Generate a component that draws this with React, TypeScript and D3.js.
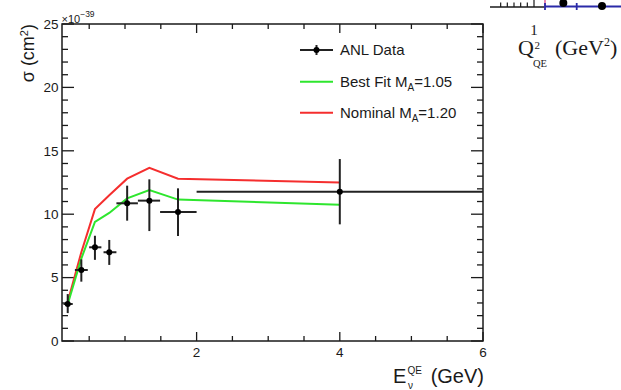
// @ts-nocheck
import { useEffect, useRef } from "react"
import * as d3 from "d3"

// ANL data points (E in GeV, sigma in 1e-39 cm^2)
const anlE = [0.2, 0.39, 0.58, 0.78, 1.03, 1.34, 1.74, 4.0]
const anlELo = [0.14, 0.3, 0.5, 0.7, 0.88, 1.18, 1.49, 2.0]
const anlEHi = [0.27, 0.48, 0.67, 0.88, 1.18, 1.49, 2.0, 6.0]
const anlSigma = [2.92, 5.6, 7.39, 7.0, 10.86, 11.07, 10.17, 11.78]
const anlSigmaLo = [2.2, 4.68, 6.4, 6.0, 9.49, 8.67, 8.28, 9.2]
const anlSigmaHi = [3.7, 6.44, 8.3, 7.97, 12.25, 12.75, 12.04, 14.35]

// model curves evaluated at the bin centres
const bestFit = [2.9, 6.5, 9.4, 10.1, 11.25, 11.9, 11.15, 10.75]
const nominal = [3.1, 7.0, 10.4, 11.5, 12.8, 13.65, 12.8, 12.5]

const xMajor = [2, 4, 6]
const yMajor = [0, 5, 10, 15, 20, 25]

const legendLabels = ["ANL Data", "Best Fit M", "Nominal M"]
const legendValues = ["", "=1.05", "=1.20"]

// neighbouring panel, cut off at the top right
const qTicks = [0.5, 0.6, 0.7, 0.8, 0.9, 1]
const qPts = [1.44, 2.02]
const qPtsY = [0.4, 0.1]

const W = 621
const H = 390
const FONT = "'Liberation Sans', Arial, Helvetica, sans-serif"

export default function App() {
  const svgRef = useRef<SVGSVGElement>(null)

  useEffect(() => {
    if (!svgRef.current) return
    const svg = d3.select(svgRef.current)
    svg.selectAll("*").remove()

    const left = 62, right = 483, top = 24, bottom = 341
    const x = d3.scaleLinear().domain([0.12, 6]).range([left, right])
    const y = d3.scaleLinear().domain([0, 25]).range([bottom, top])
    const ink = "#1a1a1a"

    // frame
    svg.append("rect")
      .attr("x", left).attr("y", top)
      .attr("width", right - left).attr("height", bottom - top)
      .attr("fill", "none").attr("stroke", ink).attr("stroke-width", 1.5)

    // x ticks, bottom and top, pointing inward
    const xTicks = d3.range(0.5, 6.01, 0.5)
    const tg = svg.append("g").attr("stroke", ink).attr("stroke-width", 1.3)
    xTicks.forEach((t) => {
      const len = xMajor.includes(t) ? 9 : 5
      tg.append("line").attr("x1", x(t)).attr("x2", x(t)).attr("y1", bottom).attr("y2", bottom - len)
      tg.append("line").attr("x1", x(t)).attr("x2", x(t)).attr("y1", top).attr("y2", top + len)
    })
    const yTicks = d3.range(0, 25.01, 1)
    yTicks.forEach((t) => {
      const len = yMajor.includes(t) ? 12 : 6
      tg.append("line").attr("x1", left).attr("x2", left + len).attr("y1", y(t)).attr("y2", y(t))
      tg.append("line").attr("x1", right).attr("x2", right - len).attr("y1", y(t)).attr("y2", y(t))
    })

    // tick labels
    svg.append("g").selectAll("text").data(xMajor).join("text")
      .attr("x", (d) => x(d)).attr("y", 357)
      .attr("text-anchor", "middle")
      .style("font-family", FONT).style("font-size", "13.5px").attr("fill", ink)
      .text((d) => d)
    svg.append("g").selectAll("text").data(yMajor).join("text")
      .attr("x", 58.5).attr("y", (d) => y(d)).attr("dy", "0.36em")
      .attr("text-anchor", "end")
      .style("font-family", FONT).style("font-size", "13.5px").attr("fill", ink)
      .text((d) => d)

    // exponent
    const ex = svg.append("text").attr("x", 61.5).attr("y", 22.5)
      .style("font-family", FONT).style("font-size", "11px").attr("fill", ink)
    ex.append("tspan").text("×10")
    ex.append("tspan").attr("dy", -5.5).style("font-size", "8.5px").text("−39")

    // axis titles
    const yt = svg.append("text")
      .attr("transform", `translate(34,${top}) rotate(-90)`)
      .attr("text-anchor", "end")
      .style("font-family", FONT).style("font-size", "18px").attr("fill", ink)
    yt.append("tspan").text("σ (cm")
    yt.append("tspan").attr("dy", -6).style("font-size", "11px").text("2")
    yt.append("tspan").attr("dy", 6).text(")")

    svg.append("text").attr("x", 393).attr("y", 383)
      .style("font-family", FONT).style("font-size", "20px").attr("fill", ink).text("E")
    svg.append("text").attr("x", 407.5).attr("y", 374)
      .style("font-family", FONT).style("font-size", "10px").attr("fill", ink).text("QE")
    svg.append("text").attr("x", 408).attr("y", 389)
      .style("font-family", FONT).style("font-size", "10px").attr("fill", ink).text("ν")
    svg.append("text").attr("x", 484).attr("y", 383).attr("text-anchor", "end")
      .style("font-family", FONT).style("font-size", "20px").attr("fill", ink).text("(GeV)")

    // model curves
    const line = d3.line().x((d) => x(d[0])).y((d) => y(d[1]))
    svg.append("path").datum(anlE.map((e, i) => [e, nominal[i]]))
      .attr("d", line).attr("fill", "none").attr("stroke", "#f52e2e").attr("stroke-width", 2)
    svg.append("path").datum(anlE.map((e, i) => [e, bestFit[i]]))
      .attr("d", line).attr("fill", "none").attr("stroke", "#2ee62e").attr("stroke-width", 2)

    // data with error bars
    const dg = svg.append("g").attr("stroke", "#222").attr("stroke-width", 2)
    anlE.forEach((e, i) => {
      dg.append("line").attr("x1", x(anlELo[i])).attr("x2", Math.min(x(anlEHi[i]), right))
        .attr("y1", y(anlSigma[i])).attr("y2", y(anlSigma[i]))
      dg.append("line").attr("x1", x(e)).attr("x2", x(e))
        .attr("y1", y(anlSigmaLo[i])).attr("y2", y(anlSigmaHi[i]))
    })
    svg.append("g").selectAll("circle").data(anlE).join("circle")
      .attr("cx", (d) => x(d)).attr("cy", (d, i) => y(anlSigma[i]))
      .attr("r", 3).attr("fill", "#000")

    // legend
    const lx1 = 300, lx2 = 333, ltx = 340
    const ly = [50, 81.7, 112.7]
    const lcol = ["#222", "#2ee62e", "#f52e2e"]
    legendLabels.forEach((lab, i) => {
      svg.append("line").attr("x1", lx1).attr("x2", lx2).attr("y1", ly[i]).attr("y2", ly[i])
        .attr("stroke", lcol[i]).attr("stroke-width", 2)
      const t = svg.append("text").attr("x", ltx).attr("y", ly[i] + 5.3)
        .style("font-family", FONT).style("font-size", "15px").attr("fill", ink)
      t.append("tspan").text(lab)
      if (legendValues[i]) {
        t.append("tspan").attr("dy", 4).style("font-size", "10px").text("A")
        t.append("tspan").attr("dy", -4).text(legendValues[i])
      }
    })
    const mx = (lx1 + lx2) / 2
    svg.append("line").attr("x1", mx).attr("x2", mx).attr("y1", ly[0] - 5).attr("y2", ly[0] + 5)
      .attr("stroke", "#222").attr("stroke-width", 2)
    svg.append("circle").attr("cx", mx).attr("cy", ly[0]).attr("r", 3).attr("fill", "#000")

    // fragment of the neighbouring panel (top right corner)
    const qx = d3.scaleLinear().domain([0.4, 1]).range([494, 534])
    const qy = d3.scaleLinear().domain([0, 1]).range([7, -3])
    const qg = svg.append("g")
    qg.append("line").attr("x1", 490).attr("x2", 545).attr("y1", 7).attr("y2", 7)
      .attr("stroke", ink).attr("stroke-width", 1.3)
    qTicks.forEach((t) => {
      qg.append("line").attr("x1", qx(t)).attr("x2", qx(t)).attr("y1", 7).attr("y2", t === 1 ? 0 : 2.5)
        .attr("stroke", ink).attr("stroke-width", 1.2)
    })
    qg.append("line").attr("x1", 545).attr("x2", 545).attr("y1", 0).attr("y2", 8)
      .attr("stroke", "#e0609a").attr("stroke-width", 1.5)
    qg.append("line").attr("x1", 545).attr("x2", W).attr("y1", 6.5).attr("y2", 6.5)
      .attr("stroke", "#2a2aa8").attr("stroke-width", 1.8)
    ;[545, 576.7].forEach((cx) => {
      qg.append("line").attr("x1", cx).attr("x2", cx).attr("y1", 3).attr("y2", 10)
        .attr("stroke", "#2a2aa8").attr("stroke-width", 1.8)
    })
    qg.selectAll("circle").data(qPts).join("circle")
      .attr("cx", (d) => qx(d)).attr("cy", (d, i) => qy(qPtsY[i]))
      .attr("r", 4).attr("fill", "#000")
    const SERIF = "'Liberation Serif', 'Times New Roman', serif"
    qg.append("text").attr("x", qx(1)).attr("y", 35).attr("text-anchor", "middle")
      .style("font-family", SERIF).style("font-size", "15px").attr("fill", ink).text("1")
    qg.append("text").attr("x", 518).attr("y", 55)
      .style("font-family", SERIF).style("font-size", "22px").attr("fill", ink).text("Q")
    qg.append("text").attr("x", 534.5).attr("y", 49)
      .style("font-family", SERIF).style("font-size", "11px").attr("fill", ink).text("2")
    qg.append("text").attr("x", 533).attr("y", 67)
      .style("font-family", SERIF).style("font-size", "10.5px").attr("fill", ink).text("QE")
    const gq = qg.append("text").attr("x", 555).attr("y", 55)
      .style("font-family", SERIF).style("font-size", "22px").attr("fill", ink)
    gq.append("tspan").text("(GeV")
    gq.append("tspan").attr("dy", -9).style("font-size", "12px").text("2")
    gq.append("tspan").attr("dy", 9).text(")")
  }, [])

  return (
    <svg
      ref={svgRef}
      width={W}
      height={H}
      style={{ position: "absolute", left: 0, top: 0, background: "#fff" }}
    />
  )
}
